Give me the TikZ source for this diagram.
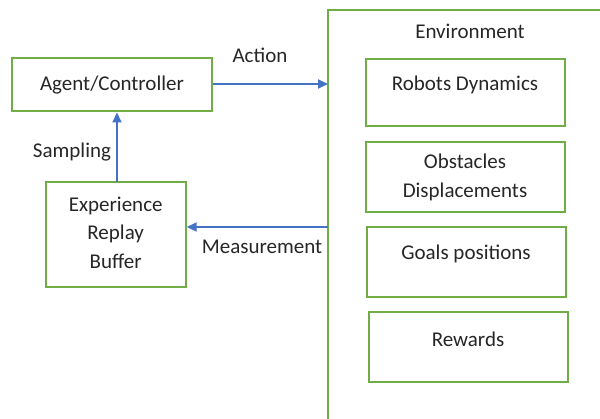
\documentclass[tikz,border=0pt]{standalone}
\usepackage{fontspec}
\setmainfont{Carlito}
\usetikzlibrary{arrows.meta}
\definecolor{boxgreen}{RGB}{112,173,71}
\definecolor{arrowblue}{RGB}{68,114,196}
\begin{document}
\begin{tikzpicture}[
    x=1pt, y=-1pt,
    every node/.style={align=center, font=\fontsize{21}{28.5}\selectfont, text=black!85},
    green box/.style={draw=boxgreen, line width=2pt, inner sep=0pt},
    env box/.style={green box, minimum width=199pt, minimum height=70pt},
    flow arrow/.style={draw=arrowblue, line width=1.8pt, -{Triangle[length=10pt,width=9pt]}},
    ]
\useasboundingbox (0,0) rectangle (600,419);
% environment frame, runs off the page
\coordinate (envTop) at (328,10);
\coordinate (envBottom) at (328,425);
\coordinate (envRight) at (605,10);
\draw[boxgreen, line width=2pt] (envBottom) -- (envTop) -- (envRight);
\node (Environment) at (470,31) {Environment};
\node[env box, minimum height=67pt, label={[yshift=8pt]center:Robots Dynamics}] (Robots) at (465,93) {};
\node[env box] (Obstacles) at (465,177.5) {Obstacles\\Displacements};
\node[env box, label={[yshift=8pt]center:Goals positions}] (Goals) at (466,262) {};
\node[env box, label={[yshift=8pt]center:Rewards}] (Rewards) at (468,347) {};
% agent side
\node[green box, minimum width=200pt, minimum height=53pt] (Agent) at (112,85) {Agent/Controller};
\node[green box, minimum width=140pt, minimum height=105pt, label={[yshift=2pt]center:Experience\\Replay\\Buffer}] (Buffer) at (115.7,234.8) {};
\coordinate (actionEnd) at (328,84);
\coordinate (measureStart) at (328,227);
\coordinate (sampleStart) at (117,182);
\draw[flow arrow] (actionEnd -| Agent.east) -- (actionEnd);
\draw[flow arrow] (measureStart) -- (measureStart -| Buffer.east);
\draw[flow arrow] (sampleStart) -- (sampleStart |- Agent.south);
\node (Action) at (260,55) {Action};
\node (Measurement) at (262,247) {Measurement};
\node (Sampling) at (72,152) {Sampling};
\end{tikzpicture}
\end{document}
